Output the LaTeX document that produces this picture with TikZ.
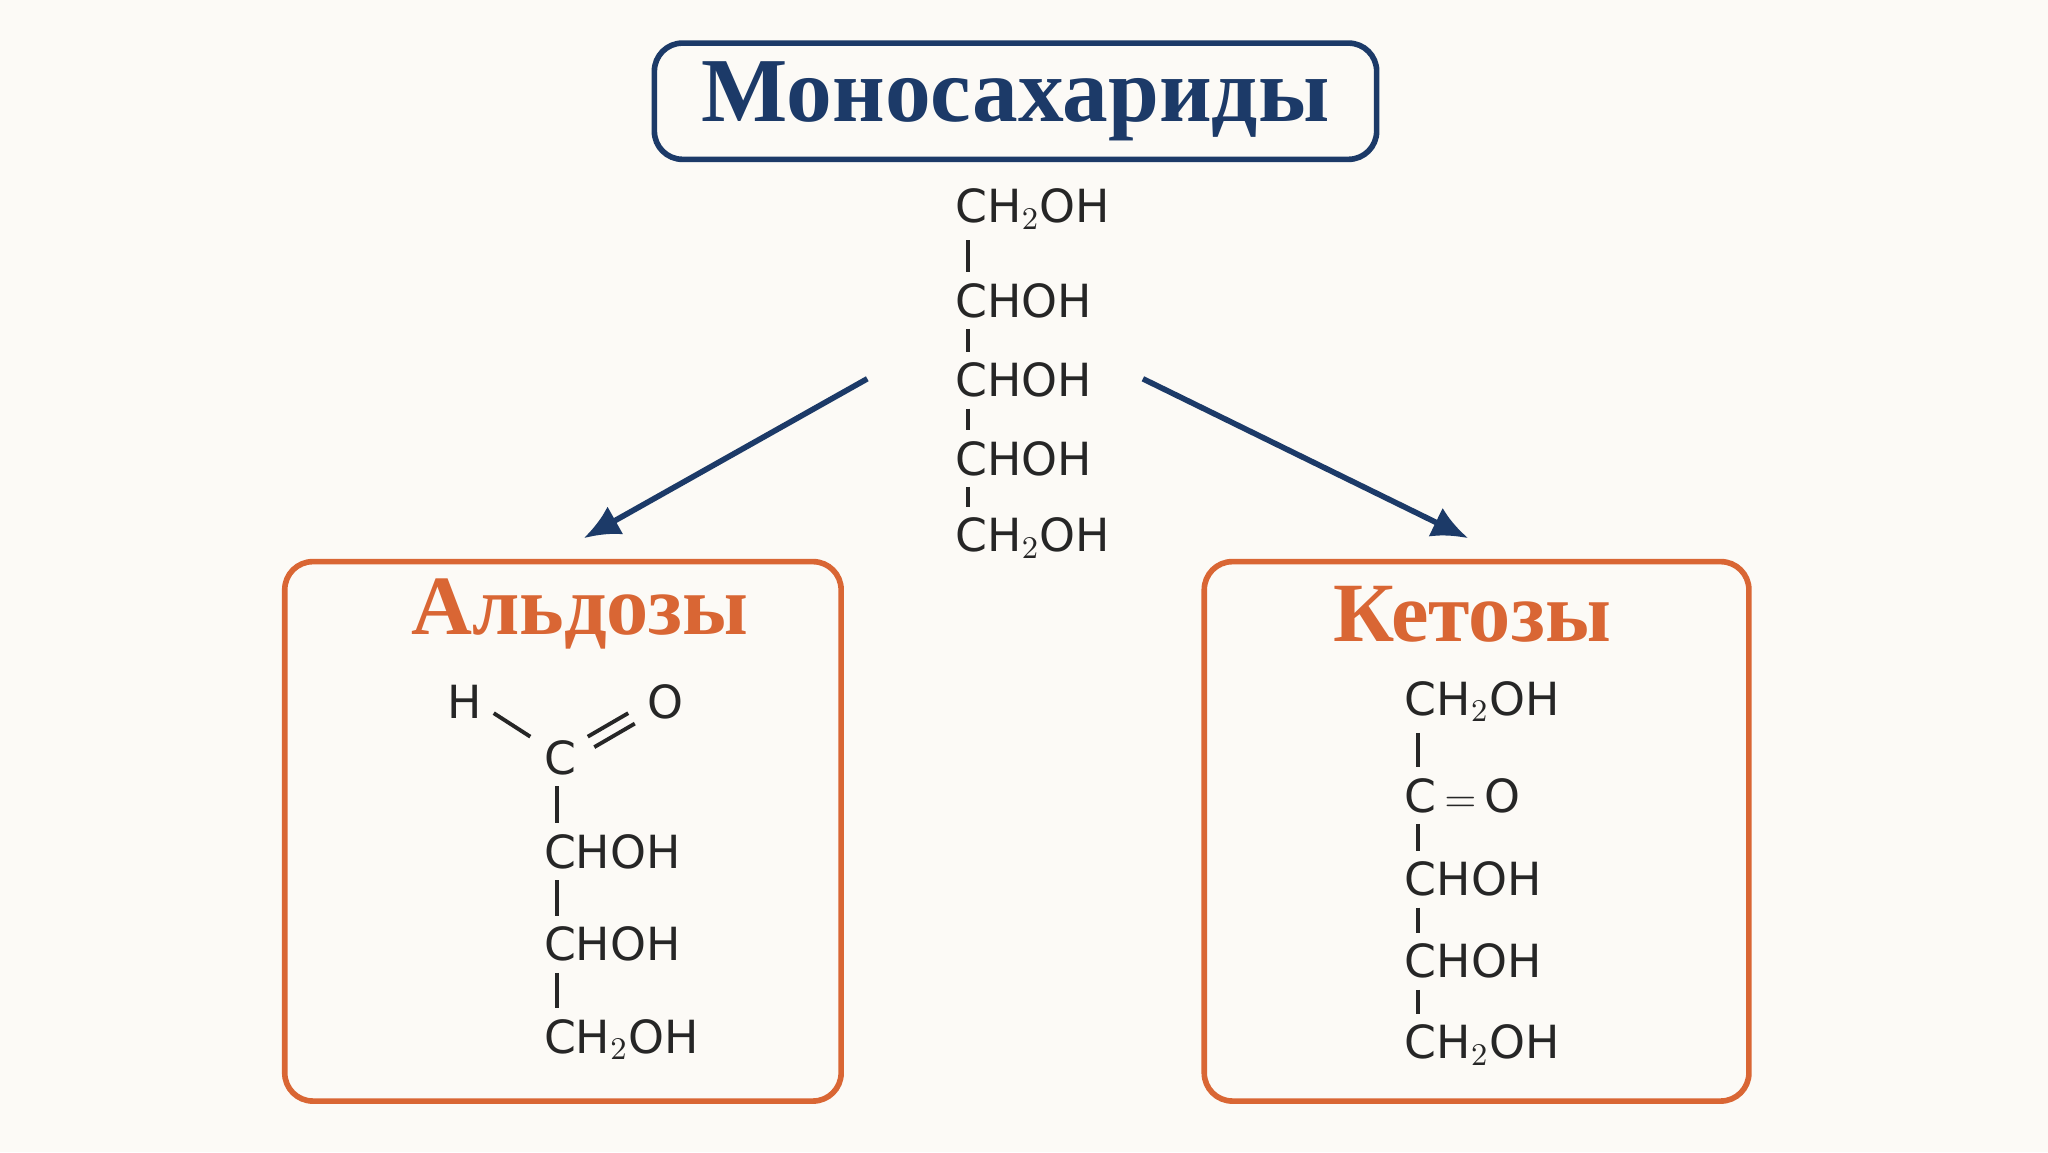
\documentclass[tikz,border=0pt]{standalone}
\usepackage{fontspec}
\setmainfont{Liberation Serif}
\newfontfamily\chemfont{DejaVu Sans}
\usetikzlibrary{arrows.meta,positioning}
\definecolor{navy}{RGB}{28,58,104}
\definecolor{rust}{RGB}{217,102,52}
\definecolor{paper}{RGB}{252,250,246}
\tikzset{>={Latex[width=3.2mm,length=3.6mm]}}
\tikzset{chem/.style={anchor=west, inner sep=0pt, font=\chemfont\fontsize{13}{13}\selectfont, text=black!85}}
\tikzset{bond/.style={draw=black!85, line width=1.1pt, -}}
\tikzset{box/.style={draw=rust, line width=1.6pt, rounded corners=8pt}}
\newcommand{\bondv}[2]{\draw[bond] ([xshift=0.135cm,yshift=-3pt]#1.south west) -- ([xshift=0.135cm,yshift=3pt]#2.north west);}

\begin{document}
\begin{tikzpicture}[x=0.1306mm, y=-0.1306mm]
    \fill[paper] (0,0) rectangle (1568,882);

    % title
    \node(title) [draw=navy, line width=1.6pt, rounded corners=8pt, minimum width=553*0.1306mm, minimum height=89*0.1306mm,
        font=\bfseries\fontsize{26}{26}\selectfont, text=navy] at (777.5,77.5) {Моносахариды};

    % chain
    \node(m1)[chem] at (731,160) {CH$_2$OH};
    \node(m2)[chem] at (731,230) {CHOH};
    \node(m3)[chem] at (731,291) {CHOH};
    \node(m4)[chem] at (731,351) {CHOH};
    \node(m5)[chem] at (731,412) {CH$_2$OH};
    \bondv{m1}{m2}
    \bondv{m2}{m3}
    \bondv{m3}{m4}
    \bondv{m4}{m5}

    % arrows
    \coordinate(la) at (664,290);
    \coordinate(ra) at (875,290);
    \coordinate(lb) at (447,412);
    \coordinate(rb) at (1124,412);
    \draw [->][draw=navy, line width=1.6pt, fill=navy] (la) -- (lb);
    \draw [->][draw=navy, line width=1.6pt, fill=navy] (ra) -- (rb);

    % boxes
    \draw[box] (218,430) rectangle (644,843);
    \draw[box] (922,430) rectangle (1339,843);
    \node(ald) [font=\bfseries\fontsize{24}{24}\selectfont, text=rust] at (444,470) {Альдозы};
    \node(ket) [font=\bfseries\fontsize{24}{24}\selectfont, text=rust] at (1127,470) {Кетозы};

    % aldose
    \node(ah)[chem] at (342,537) {H};
    \node(ao)[chem] at (495,537) {O};
    \node(ac)[chem] at (416,580) {C};
    \node(a2)[chem] at (416,652) {CHOH};
    \node(a3)[chem] at (416,723) {CHOH};
    \node(a4)[chem] at (416,796) {CH$_2$OH};
    \draw[bond] (378,546) -- (406,564);
    \draw[bond] (450,564) -- (481,546);
    \draw[bond] (455,572) -- (486,554);
    \bondv{ac}{a2}
    \bondv{a2}{a3}
    \bondv{a3}{a4}

    % ketose
    \node(k1)[chem] at (1075,537) {CH$_2$OH};
    \node(k2)[chem] at (1075,609) {C\,$=$\,O};
    \node(k3)[chem] at (1075,673) {CHOH};
    \node(k4)[chem] at (1075,736) {CHOH};
    \node(k5)[chem] at (1075,800) {CH$_2$OH};
    \bondv{k1}{k2}
    \bondv{k2}{k3}
    \bondv{k3}{k4}
    \bondv{k4}{k5}
\end{tikzpicture}
\end{document}
